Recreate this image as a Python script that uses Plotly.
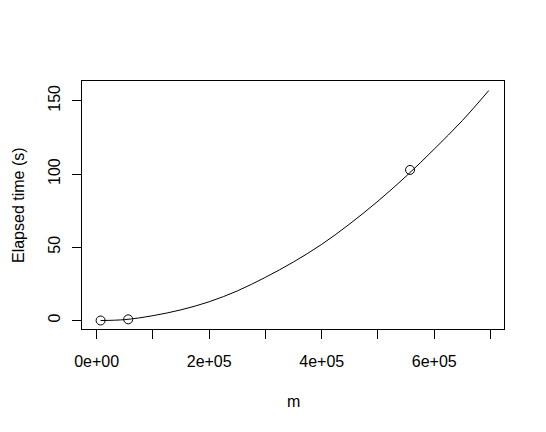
import plotly.graph_objects as go

# Observed points
obs_m = [7000, 56000, 557000]
obs_t = [0.0, 0.8, 102.8]

# Fitted curve
curve_m = [7000, 50000, 100000, 150000, 200000, 250000, 300000, 350000,
           400000, 450000, 500000, 550000, 600000, 650000, 697000]
curve_t = [0.0, 0.6, 3.3, 7.3, 12.8, 20.2, 29.5, 40.0,
           52.0, 66.0, 81.5, 98.5, 117.0, 136.5, 157.0]

x_tickvals = [0, 100000, 200000, 300000, 400000, 500000, 600000, 700000]
x_ticktext = ["0e+00", "", "2e+05", "", "4e+05", "", "6e+05", ""]
y_tickvals = [0, 50, 100, 150]
y_ticktext = ["0", "50", "100", "150"]

FONT = "Liberation Sans, Arial, Helvetica, sans-serif"

fig = go.Figure()
fig.add_trace(go.Scatter(x=curve_m, y=curve_t, mode="lines",
                         line=dict(color="black", width=1, shape="spline"),
                         hoverinfo="skip", showlegend=False))
fig.add_trace(go.Scatter(x=obs_m, y=obs_t, mode="markers",
                         marker=dict(symbol="circle-open", size=9,
                                     line=dict(color="black", width=1), color="black"),
                         showlegend=False))

# page has an 8px body margin; compensate so the plot box lands where the reference has it
W, H = 538, 424
L, R, T, B = 74, 42, 73, 103

fig.update_layout(
    width=W, height=H,
    margin=dict(l=L, r=R, t=T, b=B, pad=0),
    paper_bgcolor="white", plot_bgcolor="white",
    font=dict(family=FONT, size=16, color="black"),
    xaxis=dict(range=[-26100, 724000], tickvals=x_tickvals, ticktext=x_ticktext,
               showgrid=False, zeroline=False, showline=True, mirror=True,
               linecolor="black", linewidth=1, ticks="outside", ticklen=9,
               tickcolor="black", tickwidth=1, ticklabelstandoff=9),
    yaxis=dict(range=[-5.8, 163.5], tickvals=y_tickvals, ticktext=y_ticktext,
               tickangle=-90, showgrid=False, zeroline=False, showline=True,
               mirror=True, linecolor="black", linewidth=1, ticks="outside",
               ticklen=9, tickcolor="black", tickwidth=1, ticklabelstandoff=6),
    annotations=[
        dict(text="m", xref="paper", yref="paper", x=0.5, y=0,
             yshift=-72.7, xanchor="center", yanchor="middle",
             showarrow=False, font=dict(size=16)),
        dict(text="Elapsed time (s)", xref="paper", yref="paper", x=0, y=0.5,
             xshift=-64, xanchor="center", yanchor="middle", textangle=-90,
             showarrow=False, font=dict(size=16)),
    ],
)

fig.write_html("out.html")
